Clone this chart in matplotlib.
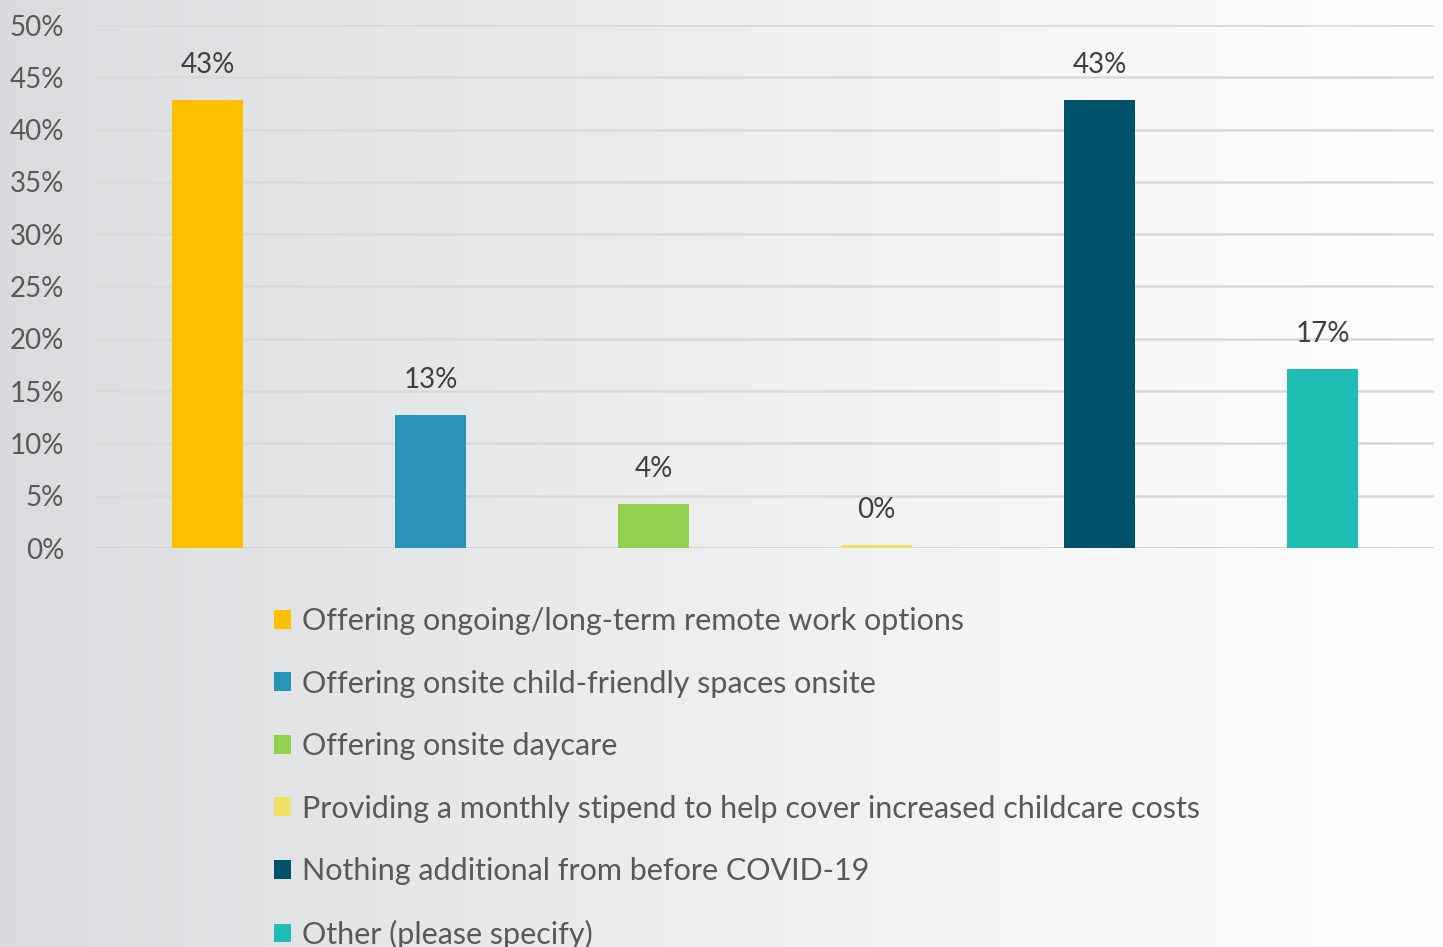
import numpy as np
import matplotlib.pyplot as plt
from matplotlib.patches import Patch

# Данные опроса
categories = [
    'Offering ongoing/long-term remote work options',
    'Offering onsite child-friendly spaces onsite',
    'Offering onsite daycare',
    'Providing a monthly stipend to help cover increased childcare costs',
    'Nothing additional from before COVID-19',
    'Other (please specify)',
]
values = [42.8, 12.7, 4.2, 0.3, 42.8, 17.1]
colors = ['#FFC000', '#2A93B8', '#92D050', '#F0E068', '#00516A', '#20BDB4']
yticks = [0, 5, 10, 15, 20, 25, 30, 35, 40, 45, 50]

plt.rcParams['font.family'] = ['Lato', 'DejaVu Sans']
text_color = '#595959'

fig = plt.figure(figsize=(14.43, 9.47), dpi=100)

# Фон с горизонтальным градиентом
bg = fig.add_axes([0, 0, 1, 1], zorder=-10)
grad = np.linspace(0, 1, 512).reshape(1, -1)
left = np.array([0.855, 0.86, 0.87])
right = np.array([1.0, 1.0, 1.0])
img = left + (right - left) * grad[..., None] ** 0.9
bg.imshow(img, aspect='auto', extent=[0, 1, 0, 1])
bg.axis('off')

W, H = 1443, 947
ax = fig.add_axes([96 / W, 1 - 548 / H, (1434 - 96) / W, (548 - 25) / H])
ax.patch.set_alpha(0)

x = np.arange(len(values))
bars = ax.bar(x, values, width=0.32, color=colors, zorder=3)
for xi, v in zip(x, values):
    ax.text(xi, v + 2.1, f'{v:.0f}%', ha='center', va='bottom',
            fontsize=20, color='#404040')

ax.set_xlim(-0.5, 5.5)
ax.set_ylim(0, 50)
ax.set_yticks(yticks)
ax.set_yticklabels([f'{t}%' for t in yticks], fontsize=20, color=text_color)
ax.tick_params(axis='y', length=0, pad=23)
ax.set_xticks([])
ax.grid(axis='y', color='#d9d9d9', linewidth=1.8, zorder=0)
for s in ax.spines.values():
    s.set_visible(False)
ax.axhline(0, color='#d0d0d0', linewidth=1.8, zorder=2)

handles = [Patch(facecolor=c, edgecolor='none') for c in colors]
fig.legend(handles, categories, loc='upper left',
           bbox_to_anchor=(274 / W, 1 - 607 / H), frameon=False,
           fontsize=22, labelcolor=text_color, handlelength=0.56,
           handleheight=0.56, handletextpad=0.34, labelspacing=1.13,
           borderpad=0, borderaxespad=0)

fig.savefig('out.png', dpi=100)
